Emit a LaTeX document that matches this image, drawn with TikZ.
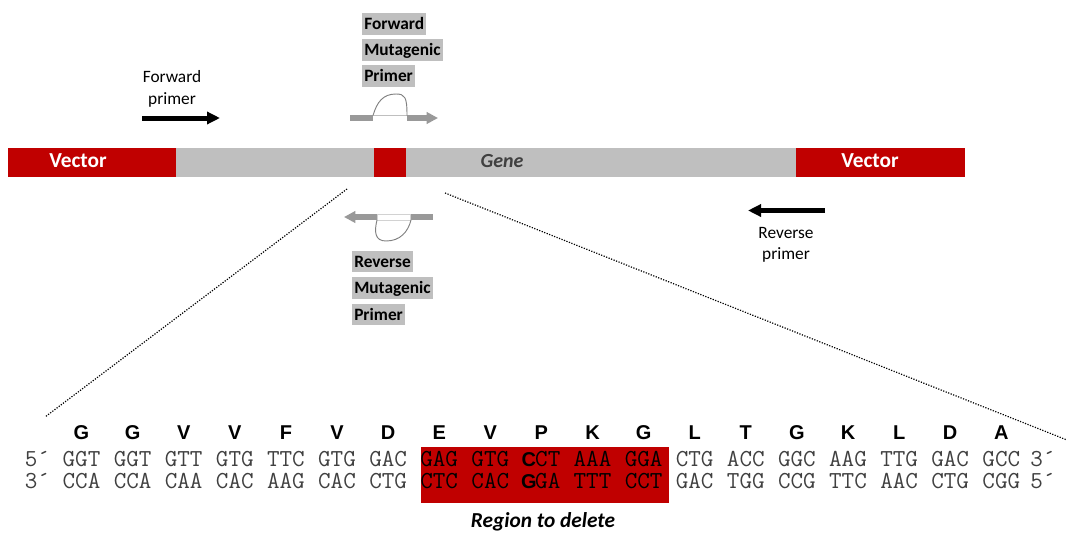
\documentclass[tikz,border=0pt]{standalone}
\usepackage{fontspec}
\setmainfont{Carlito}
\newfontfamily\arialf{Liberation Sans}
\usetikzlibrary{arrows.meta}
\definecolor{dred}{HTML}{C00000}
\definecolor{lgrey}{HTML}{BFBFBF}
\definecolor{mgrey}{HTML}{999999}
\definecolor{seqgrey}{HTML}{404040}
\newcommand\bch[1]{\makebox[9.6pt]{\arialf\bfseries\fontsize{15}{15}\selectfont #1}}
\begin{document}
\begin{tikzpicture}[x=0.75pt,y=-0.75pt,
  lbl/.style={font=\fontsize{13}{15}\selectfont, align=center, inner sep=0pt},
  mutlbl/.style={fill=lgrey, anchor=north west, font=\bfseries\fontsize{13}{15}\selectfont,
     inner xsep=1.5pt, inner ysep=0pt, text height=12.5pt, text depth=3.5pt},
  vec/.style={text=white, font=\bfseries\fontsize{16}{18}\selectfont, inner sep=0pt},
  blackarrow/.style={line width=3.75pt, -{Triangle[length=9.75pt,width=9pt]}},
  greyarrow/.style={mgrey, line width=4pt, -{Triangle[length=8.5pt,width=8.5pt]}},
  greybar/.style={mgrey, line width=4pt},
  loopline/.style={gray, line width=0.7pt},
  zoomline/.style={line width=0.9pt, dash pattern=on 0.9pt off 1.1pt},
  codon/.style={font=\ttfamily\fontsize{18.3}{18.3}\selectfont, anchor=base, inner sep=0pt},
  aa/.style={font=\arialf\bfseries\fontsize{15}{15}\selectfont, anchor=base, inner sep=0pt}
]
\useasboundingbox (0,0) rectangle (1067,532);

% bar
\fill[dred] (8,148) rectangle (176,177);
\fill[lgrey] (176,148) rectangle (374,177);
\fill[dred] (374,148) rectangle (406,177);
\fill[lgrey] (406,148) rectangle (796,177);
\fill[dred] (796,148) rectangle (965,177);
\node[vec] (vecL) at (78,161) {Vector};
\node[vec] (vecR) at (870,161) {Vector};
\node[text=seqgrey, font=\bfseries\itshape\fontsize{15}{17}\selectfont, inner sep=0pt] (gene) at (502,161) {Gene};

% forward primer
\node[lbl] (fptxt) at (172,89) {Forward\\[1pt]primer};
\coordinate (fp1) at (142,118);
\coordinate (fp2) at (220,118);
\draw[blackarrow] (fp1) -- (fp2);

% reverse primer
\node[lbl] (rptxt) at (786,245) {Reverse\\[1pt]primer};
\coordinate (rp1) at (825,210.5);
\coordinate (rp2) at (748,210.5);
\draw[blackarrow] (rp1) -- (rp2);

% forward mutagenic primer
\node[mutlbl] (fm1) at (362,13) {Forward};
\node[mutlbl] (fm2) at (362,39) {Mutagenic};
\node[mutlbl] (fm3) at (362,65) {Primer};
\coordinate (fa1) at (350,118);
\coordinate (fa2) at (373,118);
\coordinate (fa3) at (407,118);
\coordinate (fa4) at (438,118);
\coordinate (fl1) at (373,115.5);
\coordinate (fl2) at (407,115.5);
\draw[greybar] (fa1) -- (fa2);
\draw[greyarrow] (fa3) -- (fa4);
\draw[lgrey, line width=0.7pt] (fl1) -- (fl2);
\draw[loopline] (fl1) .. controls (377,102) and (383,94) .. (396,94)
   .. controls (405,94) and (407,97) .. (fl2);

% reverse mutagenic primer
\node[mutlbl] (rm1) at (352,250.5) {Reverse};
\node[mutlbl] (rm2) at (352,277) {Mutagenic};
\node[mutlbl] (rm3) at (352,303.5) {Primer};
\coordinate (ra1) at (377,217);
\coordinate (ra2) at (344,217);
\coordinate (ra3) at (410,217);
\coordinate (ra4) at (433,217);
\coordinate (rl1) at (377,220);
\coordinate (rl2) at (411,220);
\draw[greyarrow] (ra1) -- (ra2);
\draw[greybar] (ra3) -- (ra4);
\draw[lgrey!70, line width=0.6pt] (377,214) rectangle (410,220);
\draw[loopline] (rl1) .. controls (374,232) and (375,241) .. (386,241)
   .. controls (400,241) and (408,232) .. (rl2);

% zoom lines
\coordinate (zl1) at (347,189);
\coordinate (zl2) at (45,417);
\coordinate (zr1) at (445,193);
\coordinate (zr2) at (1067,440);
\draw[zoomline] (zl1) -- (zl2);
\draw[zoomline] (zr1) -- (zr2);

% region box
\fill[dred] (421,447) rectangle (669,503);

% sequence
\node[codon, text=seqgrey] (p5a) at (37.5,466) {5´};
\node[codon, text=seqgrey] (p3a) at (1043,466) {3´};
\node[codon, text=seqgrey] (p3b) at (37.5,488) {3´};
\node[codon, text=seqgrey] (p5b) at (1043,488) {5´};
\foreach \t/\b/\a/\c [count=\i from 0] in {
  GGT/CCA/G/seqgrey, GGT/CCA/G/seqgrey, GTT/CAA/V/seqgrey, GTG/CAC/V/seqgrey,
  TTC/AAG/F/seqgrey, GTG/CAC/V/seqgrey, GAC/CTG/D/seqgrey,
  GAG/CTC/E/black, GTG/CAC/V/black, {\bch{C}CT}/{\bch{G}GA}/P/black,
  AAA/TTT/K/black, GGA/CCT/G/black,
  CTG/GAC/L/seqgrey, ACC/TGG/T/seqgrey, GGC/CCG/G/seqgrey, AAG/TTC/K/seqgrey,
  TTG/AAC/L/seqgrey, GAC/CTG/D/seqgrey, GCC/CGG/A/seqgrey}{
  \pgfmathsetmacro{\xx}{81.5+51.1*\i}
  \node[aa] (a\i) at (\xx,439.5) {\a};
  \node[codon, text=\c] (t\i) at (\xx,466) {\t};
  \node[codon, text=\c] (b\i) at (\xx,488) {\b};
}
\node[font=\bfseries\itshape\fontsize{16}{18}\selectfont, inner sep=0pt] (region) at (543,522) {Region to delete};
\end{tikzpicture}
\end{document}
